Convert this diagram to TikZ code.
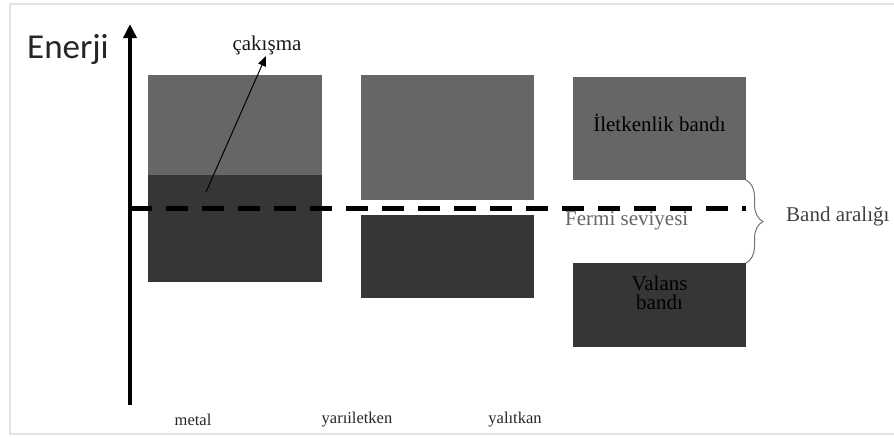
\documentclass[tikz,border=0pt]{standalone}
\usepackage{fontspec}
\setmainfont{Liberation Serif}
\newfontfamily\calib{Carlito}
\usetikzlibrary{arrows.meta,decorations.pathreplacing}
\definecolor{lightband}{HTML}{666666}
\definecolor{darkband}{HTML}{363636}
\definecolor{framegray}{HTML}{E2E2E2}
\begin{document}
\begin{tikzpicture}[x=1pt,y=-1pt,
  band/.style={inner sep=0pt,outer sep=0pt,minimum width=173pt},
  lband/.style={band,fill=lightband},
  dband/.style={band,fill=darkband},
  lbl/.style={font=\fontsize{21}{23}\selectfont,text=black!90,align=center,inner sep=0pt},
  botlbl/.style={font=\fontsize{16.5}{18}\selectfont,text=black!85,inner sep=0pt},
  fermi/.style={line width=5pt,dash pattern=on 22pt off 14pt},
  ]
\useasboundingbox (0,0) rectangle (894,437);
\draw[framegray,line width=1.5pt] (10,4) -- (10,434) -- (900,434) (10,4) -- (900,4);
% metal
\node[lband,minimum width=174pt,minimum height=100pt] (mu) at (235,125) {};
\node[dband,minimum width=174pt,minimum height=107pt] (ml) at (235,228.5) {};
% semiconductor
\node[lband,minimum height=125pt] (su) at (447.5,137.5) {};
\node[dband,minimum height=83pt] (sl) at (447.5,256.5) {};
% insulator
\node[lband,minimum height=103pt] (iu) at (659.5,128.5) {};
\node[dband,minimum height=84pt] (il) at (659.5,305) {};
\node[lbl,text=black] (iuT) at (659.5,123) {İletkenlik bandı};
\node[lbl,text=black] (ilT) at (659.5,293) {Valans\\[-4pt]bandı};
% Fermi level
\coordinate (f0) at (130,208);
\coordinate (f1) at (746,208);
\draw[fermi] (f0) -- (f1);
\node[lbl,text=black!60,anchor=west] (fT) at (565,221) {Fermi seviyesi};
% band gap brace
\draw[black!55,line width=1pt,decorate,decoration={brace,amplitude=17pt}] (iu.south east) -- (il.north east);
\node[lbl,text=black!75,anchor=west] (bgT) at (786,216) {Band aralığı};
% energy axis
\coordinate (ax0) at (130,405);
\coordinate (ax1) at (130,24);
\draw[line width=3.5pt,-{Triangle[width=13pt,length=14pt]}] (ax0) -- (ax1);
\node[font=\calib\fontsize{35}{38}\selectfont,text=black!85,anchor=base west,inner sep=0pt] (en) at (27,58) {Enerji};
% overlap
\coordinate (c0) at (206,192);
\coordinate (c1) at (266,56);
\draw[line width=1pt,-{Triangle[width=8pt,length=10pt]}] (c0) -- (c1);
\node[lbl] (cT) at (267,45) {çakışma};
% bottom labels
\node[botlbl] (m) at (193,420) {metal};
\node[botlbl] (s) at (357,420) {yarıiletken};
\node[botlbl] (i) at (515,420) {yalıtkan};
\end{tikzpicture}
\end{document}
